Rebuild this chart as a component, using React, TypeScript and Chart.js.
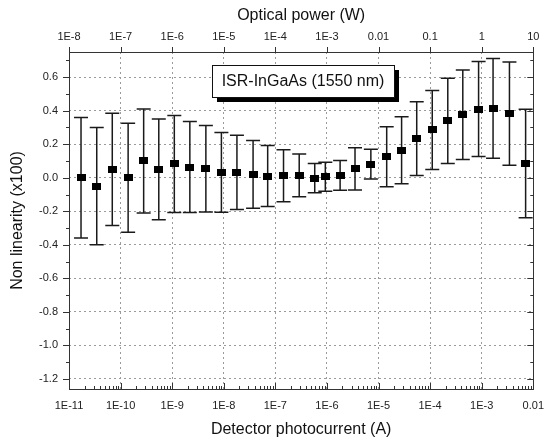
import React, { useEffect, useRef } from "react";
import { Chart, registerables } from "chart.js";

Chart.register(...registerables);

// Detector photocurrent (A)
const currentA = [
  1.71e-11, 3.45e-11, 6.9e-11, 1.4e-10, 2.8e-10, 5.5e-10, 1.1e-9, 2.2e-9, 4.5e-9, 9.0e-9,
  1.8e-8, 3.7e-8, 7.1e-8, 1.44e-7, 2.9e-7, 5.8e-7, 9.3e-7, 1.8e-6, 3.5e-6, 7.1e-6,
  1.44e-5, 2.8e-5, 5.5e-5, 1.1e-4, 2.2e-4, 4.3e-4, 8.7e-4, 1.66e-3, 3.45e-3, 7.1e-3,
];
// Non linearity (x100)
const nonLinearity = [
  0.0, -0.05, 0.05, 0.0, 0.1, 0.05, 0.082, 0.064, 0.054, 0.032,
  0.032, 0.02, 0.01, 0.012, 0.014, -0.002, 0.006, 0.014, 0.053, 0.081,
  0.125, 0.164, 0.234, 0.285, 0.339, 0.376, 0.41, 0.414, 0.382, 0.085,
];
// Uncertainty (error bar half-length)
const uncertainty = [
  0.36, 0.35, 0.335, 0.325, 0.31, 0.3, 0.29, 0.272, 0.258, 0.238,
  0.222, 0.202, 0.182, 0.155, 0.127, 0.087, 0.087, 0.089, 0.126, 0.089,
  0.179, 0.2, 0.22, 0.236, 0.254, 0.267, 0.283, 0.297, 0.308, 0.324,
];

const bottomTickValues = [1e-11, 1e-10, 1e-9, 1e-8, 1e-7, 1e-6, 1e-5, 1e-4, 1e-3, 1e-2];
const bottomTickLabels = ["1E-11", "1E-10", "1E-9", "1E-8", "1E-7", "1E-6", "1E-5", "1E-4", "1E-3", "0.01"];
const topTickValues = [1e-8, 1e-7, 1e-6, 1e-5, 1e-4, 1e-3, 1e-2, 1e-1, 1, 10];
const topTickLabels = ["1E-8", "1E-7", "1E-6", "1E-5", "1E-4", "1E-3", "0.01", "0.1", "1", "10"];
const yTickValues = [-1.2, -1.0, -0.8, -0.6, -0.4, -0.2, 0.0, 0.2, 0.4, 0.6];
const yTickLabels = ["-1.2", "-1.0", "-0.8", "-0.6", "-0.4", "-0.2", "0.0", "0.2", "0.4", "0.6"];

const legendText = "ISR-InGaAs (1550 nm)";
const FONT = "'Liberation Sans', Arial, sans-serif";

function makeSquare(): HTMLCanvasElement {
  const c = document.createElement("canvas");
  c.width = 9;
  c.height = 7;
  const g = c.getContext("2d")!;
  g.fillStyle = "#000";
  g.fillRect(0, 0, 9, 7);
  return c;
}

const overlayPlugin = {
  id: "overlay",
  beforeDatasetsDraw(chart: any) {
    const { ctx } = chart;
    const xs = chart.scales.x;
    const ys = chart.scales.y;
    ctx.save();
    ctx.strokeStyle = "#1a1a1a";
    ctx.lineWidth = 1.5;
    for (let i = 0; i < currentA.length; i++) {
      const px = xs.getPixelForValue(currentA[i]);
      const yt = ys.getPixelForValue(nonLinearity[i] + uncertainty[i]);
      const yb = ys.getPixelForValue(nonLinearity[i] - uncertainty[i]);
      ctx.beginPath();
      ctx.moveTo(px, yt);
      ctx.lineTo(px, yb);
      ctx.moveTo(px - 7, yt);
      ctx.lineTo(px + 7, yt);
      ctx.moveTo(px - 7, yb);
      ctx.lineTo(px + 7, yb);
      ctx.stroke();
    }
    ctx.restore();
  },
  afterDraw(chart: any) {
    const { ctx, chartArea } = chart;
    const { left, right, top, bottom } = chartArea;
    const xs = chart.scales.x;
    const x2 = chart.scales.x2;
    const ys = chart.scales.y;
    ctx.save();
    ctx.strokeStyle = "#333";
    ctx.lineWidth = 1;
    // frame
    ctx.strokeRect(Math.round(left) + 0.5, Math.round(top) + 0.5, Math.round(right - left), Math.round(bottom - top));
    ctx.beginPath();
    // left & right major / minor ticks
    for (let i = 0; i < yTickValues.length; i++) {
      const py = Math.round(ys.getPixelForValue(yTickValues[i])) + 0.5;
      ctx.moveTo(left - 6, py);
      ctx.lineTo(left, py);
      ctx.moveTo(right, py);
      ctx.lineTo(right - 6, py);
      const mv = yTickValues[i] + 0.1;
      if (mv < ys.max) {
        const pm = Math.round(ys.getPixelForValue(mv)) + 0.5;
        ctx.moveTo(left - 3, pm);
        ctx.lineTo(left, pm);
        ctx.moveTo(right, pm);
        ctx.lineTo(right - 3, pm);
      }
    }
    // bottom ticks
    for (let i = 0; i < bottomTickValues.length; i++) {
      const px = Math.round(xs.getPixelForValue(bottomTickValues[i])) + 0.5;
      ctx.moveTo(px, bottom);
      ctx.lineTo(px, bottom - 6);
      if (i < bottomTickValues.length - 1) {
        for (let k = 2; k <= 9; k++) {
          const pm = Math.round(xs.getPixelForValue(bottomTickValues[i] * k)) + 0.5;
          ctx.moveTo(pm, bottom);
          ctx.lineTo(pm, bottom - 3);
        }
      }
    }
    // top ticks
    for (let i = 0; i < topTickValues.length; i++) {
      const px = Math.round(x2.getPixelForValue(topTickValues[i])) + 0.5;
      ctx.moveTo(px, top);
      ctx.lineTo(px, top - 5);
    }
    ctx.stroke();

    // legend box
    const bx = 212, by = 65, bw = 182, bh = 32;
    ctx.fillStyle = "#000";
    ctx.fillRect(bx + 5, by + 5, bw, bh);
    ctx.fillStyle = "#fff";
    ctx.fillRect(bx, by, bw, bh);
    ctx.strokeStyle = "#111";
    ctx.strokeRect(bx + 0.5, by + 0.5, bw, bh);
    ctx.fillStyle = "#111";
    ctx.font = `16px ${FONT}`;
    ctx.textAlign = "center";
    ctx.textBaseline = "middle";
    ctx.fillText(legendText, bx + bw / 2, by + bh / 2 + 1);
    ctx.restore();
  },
};

export default function App() {
  const ref = useRef<HTMLCanvasElement | null>(null);
  useEffect(() => {
    if (!ref.current) return;
    const square = makeSquare();
    const tickFont = { family: FONT, size: 11 };
    const titleFont = { family: FONT, size: 16 };
    const chart = new Chart(ref.current, {
      type: "scatter",
      data: {
        datasets: [
          {
            data: currentA.map((x, i) => ({ x, y: nonLinearity[i] })),
            pointStyle: square as any,
            pointRadius: 5,
            showLine: false,
          },
        ],
      },
      options: {
        animation: false,
        responsive: false,
        maintainAspectRatio: false,
        layout: { padding: { left: 0, top: 0, bottom: 0, right: 11 } },
        plugins: { legend: { display: false }, tooltip: { enabled: false } },
        scales: {
          x: {
            type: "logarithmic",
            position: "bottom",
            min: 1e-11,
            max: 1e-2,
            afterBuildTicks: (s: any) => {
              s.ticks = bottomTickValues.map((v) => ({ value: v }));
            },
            afterFit: (s: any) => {
              s.height = 50;
            },
            ticks: {
              callback: (_v: any, i: number) => bottomTickLabels[i],
              padding: 10,
              font: tickFont,
              color: "#222",
              maxRotation: 0,
              autoSkip: false,
            },
            grid: { color: "#9a9a9a", lineWidth: 1, drawTicks: false },
            border: { display: false, dash: [2, 3] },
            title: {
              display: true,
              text: "Detector photocurrent (A)",
              font: titleFont,
              color: "#111",
              padding: { top: 0, bottom: 0 },
            },
          },
          x2: {
            type: "logarithmic",
            position: "top",
            min: 1e-8,
            max: 10,
            afterBuildTicks: (s: any) => {
              s.ticks = topTickValues.map((v) => ({ value: v }));
            },
            afterFit: (s: any) => {
              s.height = 52;
            },
            ticks: {
              callback: (_v: any, i: number) => topTickLabels[i],
              padding: 8,
              font: tickFont,
              color: "#222",
              maxRotation: 0,
              autoSkip: false,
            },
            grid: { display: false, drawTicks: false },
            border: { display: false },
            title: {
              display: true,
              text: "Optical power (W)",
              font: titleFont,
              color: "#111",
              padding: { top: 6, bottom: 0 },
            },
          },
          y: {
            type: "linear",
            position: "left",
            min: -1.26,
            max: 0.75,
            afterBuildTicks: (s: any) => {
              s.ticks = yTickValues.map((v) => ({ value: v }));
            },
            afterFit: (s: any) => {
              s.width = 69;
            },
            ticks: {
              callback: (_v: any, i: number) => yTickLabels[i],
              padding: 11,
              font: tickFont,
              color: "#222",
            },
            grid: { color: "#9a9a9a", lineWidth: 1, drawTicks: false },
            border: { display: false, dash: [2, 3] },
            title: {
              display: true,
              text: "Non linearity (x100)",
              font: titleFont,
              color: "#111",
              padding: { top: 8, bottom: 0 },
            },
          },
        },
      },
      plugins: [overlayPlugin],
    } as any);
    return () => chart.destroy();
  }, []);
  return (
    <div style={{ position: "fixed", left: 0, top: 0, width: 554, height: 439, background: "#fff" }}>
      <canvas ref={ref} width={554} height={439} style={{ width: 554, height: 439, display: "block" }} />
    </div>
  );
}
